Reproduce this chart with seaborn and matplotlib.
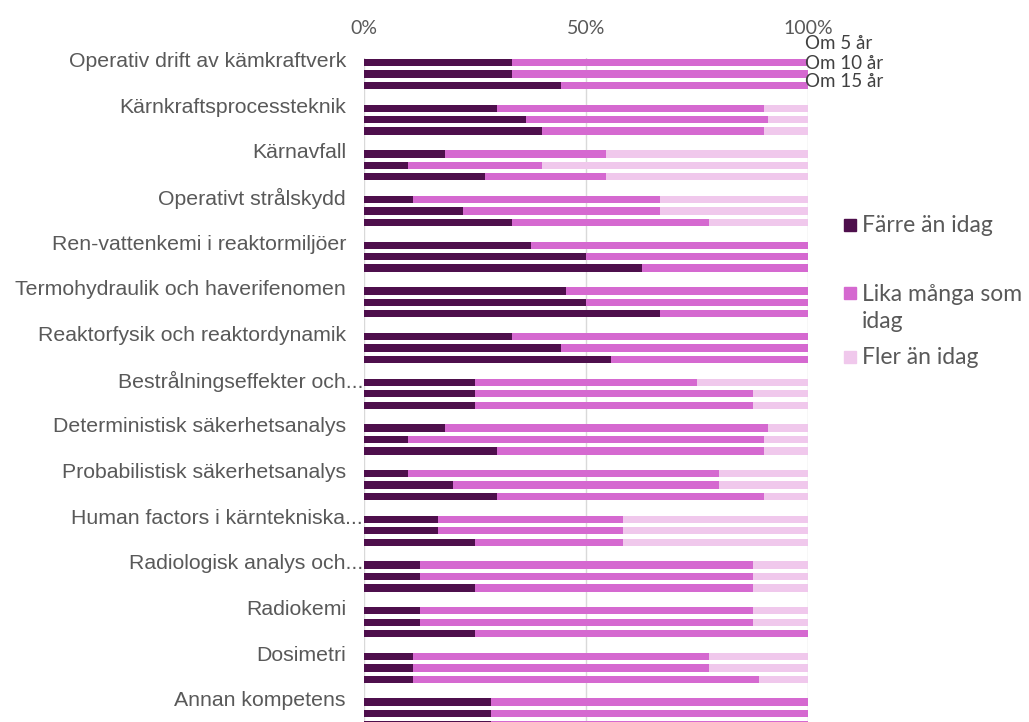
import matplotlib
matplotlib.use("Agg")
import matplotlib.pyplot as plt
from matplotlib.patches import Rectangle
import numpy as np
import pandas as pd
import seaborn as sns

# Competence areas, top to bottom
categories = [
    "Operativ drift av kämkraftverk",
    "Kärnkraftsprocessteknik",
    "Kärnavfall",
    "Operativt strålskydd",
    "Ren-vattenkemi i reaktormiljöer",
    "Termohydraulik och haverifenomen",
    "Reaktorfysik och reaktordynamik",
    "Bestrålningseffekter och",
    "Deterministisk säkerhetsanalys",
    "Probabilistisk säkerhetsanalys",
    "Human factors i kärntekniska",
    "Radiologisk analys och",
    "Radiokemi",
    "Dosimetri",
    "Annan kompetens",
]
truncated = [False, False, False, False, False, False, False, True,
             False, False, True, True, False, False, False]

periods = ["Om 5 år", "Om 10 år", "Om 15 år"]
series_names = ["Färre än idag", "Lika många som\nidag", "Fler än idag"]

# Share (%) per category, one value per period (5, 10, 15 years)
farre = [
    [33.3, 33.3, 44.4], [30.0, 36.4, 40.0], [18.2, 10.0, 27.3],
    [11.1, 22.2, 33.3], [37.5, 50.0, 62.5], [45.5, 50.0, 66.7],
    [33.3, 44.4, 55.6], [25.0, 25.0, 25.0], [18.2, 10.0, 30.0],
    [10.0, 20.0, 30.0], [16.7, 16.7, 25.0], [12.5, 12.5, 25.0],
    [12.5, 12.5, 25.0], [11.1, 11.1, 11.1], [28.6, 28.6, 28.6],
]
lika = [
    [66.7, 66.7, 55.6], [60.0, 54.5, 50.0], [36.4, 30.0, 27.3],
    [55.6, 44.4, 44.4], [62.5, 50.0, 37.5], [54.5, 50.0, 33.3],
    [66.7, 55.6, 44.4], [50.0, 62.5, 62.5], [72.7, 80.0, 60.0],
    [70.0, 60.0, 60.0], [41.7, 41.7, 33.3], [75.0, 75.0, 62.5],
    [75.0, 75.0, 75.0], [66.7, 66.7, 77.8], [71.4, 71.4, 71.4],
]
fler = [
    [0.0, 0.0, 0.0], [10.0, 9.1, 10.0], [45.5, 60.0, 45.5],
    [33.3, 33.3, 22.2], [0.0, 0.0, 0.0], [0.0, 0.0, 0.0],
    [0.0, 0.0, 0.0], [25.0, 12.5, 12.5], [9.1, 10.0, 10.0],
    [20.0, 20.0, 10.0], [41.7, 41.7, 41.7], [12.5, 12.5, 12.5],
    [12.5, 12.5, 0.0], [22.2, 22.2, 11.1], [0.0, 0.0, 0.0],
]

colors = ["#4E0F4C", "#D569D0", "#F0C8EC"]
grey = "#595959"

# Long table: one row per bar; each category takes 4 slots (3 bars + gap)
rows = []
for i, cat in enumerate(categories):
    for j, per in enumerate(periods):
        rows.append({
            "category": cat, "period": per, "pos": 4 * i + j,
            "farre": farre[i][j], "lika": lika[i][j], "fler": fler[i][j],
        })
df = pd.DataFrame(rows)
df["cum_lika"] = df["farre"] + df["lika"]
df["cum_fler"] = df["cum_lika"] + df["fler"]

sns.set_theme(style="white")
plt.rcParams["font.family"] = ["Liberation Sans", "DejaVu Sans"]

fig = plt.figure(figsize=(10.29, 7.22), dpi=100)
ax = fig.add_axes([364 / 1029, 0.0, 444 / 1029, 664 / 722])

# Stacked bars drawn back to front from cumulative totals
for col, c in zip(["cum_fler", "cum_lika", "farre"], colors[::-1]):
    sns.barplot(data=df, x=col, y="pos", orient="h", native_scale=True,
                color=c, saturation=1, width=0.64, errorbar=None,
                linewidth=0, ax=ax)

ax.set_xlim(0, 100)
ax.set_ylim(57.74, -0.4)
for s in ax.spines.values():
    s.set_visible(False)
for xv in (0, 50, 100):
    ax.axvline(xv, color="#D9D9D9", lw=1, zorder=0)

ax.xaxis.tick_top()
ax.set_xticks([0, 50, 100])
ax.set_xticklabels(["0%", "50%", "100%"], fontfamily="Lato",
                   fontsize=14, color=grey)
ax.tick_params(axis="x", length=0, pad=15)
ax.set_xlabel("")
ax.set_ylabel("")
ax.set_yticks([])

# Category labels beside the first bar of each group
ytr = ax.get_yaxis_transform()
for i, (cat, tr) in enumerate(zip(categories, truncated)):
    if tr:
        ax.text(-1 / 444, 4 * i - 0.1, cat + "...", transform=ytr,
                ha="right", va="center", fontsize=15.3, color=grey,
                clip_on=False)
    else:
        ax.text(-18 / 444, 4 * i - 0.1, cat, transform=ytr,
                ha="right", va="center", fontsize=15.3, color=grey,
                clip_on=False)

# Period labels at the right of the first group
for per, yv in zip(periods, [-1.7, 0.1, 1.7]):
    ax.text(0.993, yv, per, transform=ytr, ha="left", va="center",
            fontfamily="Lato", fontsize=13.5, color="#404040", clip_on=False)

# Legend
leg_y = [225, 308, 357]
sq_y = [225, 293, 357]
for name, c, ty, sy in zip(series_names, colors, leg_y, sq_y):
    fig.patches.append(Rectangle((844 / 1029, 1 - (sy + 6) / 722),
                                 12 / 1029, 12 / 722, color=c,
                                 transform=fig.transFigure))
    fig.text(862 / 1029, 1 - ty / 722, name, ha="left", va="center",
             fontfamily="Lato", fontsize=16.5, color=grey, linespacing=1.4)

fig.savefig("out.png", dpi=100)
